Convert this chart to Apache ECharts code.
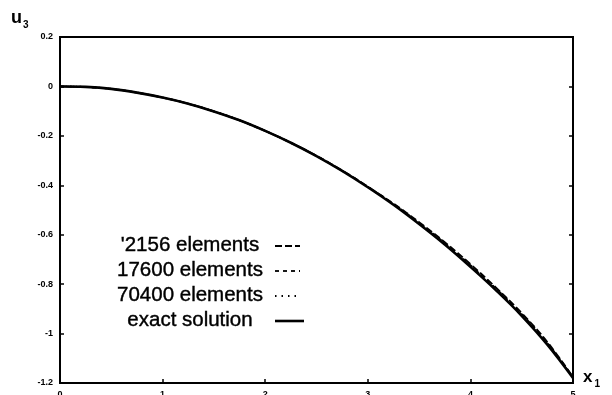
<!DOCTYPE html>
<html><head><meta charset="utf-8">
<script src="https://cdn.jsdelivr.net/npm/echarts@6/dist/echarts.min.js"></script>
<style>html,body{margin:0;padding:0;background:#fff}#c{width:612px;height:395px}</style>
</head><body><div id="c"></div>
<script>
var xs = [0,0.25,0.5,0.75,1,1.25,1.5,1.75,2,2.25,2.5,2.75,3,3.25,3.5,3.75,4,4.25,4.5,4.75,5];
var exact   = [0,-0.002,-0.010,-0.025,-0.045,-0.070,-0.101,-0.137,-0.180,-0.228,-0.282,-0.342,-0.408,-0.479,-0.557,-0.640,-0.730,-0.825,-0.928,-1.045,-1.180];
var el2156  = [0,-0.002,-0.010,-0.025,-0.045,-0.070,-0.101,-0.137,-0.180,-0.228,-0.281,-0.340,-0.405,-0.474,-0.549,-0.630,-0.719,-0.814,-0.917,-1.034,-1.176];
var el17600 = [0,-0.002,-0.010,-0.025,-0.045,-0.070,-0.101,-0.137,-0.180,-0.228,-0.281,-0.341,-0.406,-0.476,-0.552,-0.634,-0.723,-0.818,-0.921,-1.038,-1.177];
var el70400 = [0,-0.002,-0.010,-0.025,-0.045,-0.070,-0.101,-0.137,-0.180,-0.228,-0.282,-0.341,-0.407,-0.477,-0.554,-0.637,-0.726,-0.821,-0.924,-1.041,-1.178];
var legendNames = ["'2156 elements","17600 elements","70400 elements","exact solution"];
var xTicks = [0,1,2,3,4,5];
var yTicks = [0.2,0,-0.2,-0.4,-0.6,-0.8,-1,-1.2];

function pairs(v){ return xs.map(function(x,i){ return [x, v[i]]; }); }

var chart = echarts.init(document.getElementById('c'));
var lineStyles = [
  {type:[7,3], width:1.8},
  {type:[4,4], width:1.8},
  {type:[1.5,5], width:1.8},
  {type:'solid', width:2.6}
];
var dataSets = [el2156, el17600, el70400, exact];
var series = dataSets.map(function(d,i){
  return {name:legendNames[i], type:'line', data:pairs(d), showSymbol:false, smooth:0.4,
    lineStyle:{color:'#000', width:lineStyles[i].width, type:lineStyles[i].type}, z: i===3?5:3};
});

var legendGraphics = [];
var rowY = [245,270,295,320];
legendNames.forEach(function(n,i){
  legendGraphics.push({type:'text', x:190, y:rowY[i], style:{text:n, fill:'#000', font:'20.5px "Liberation Sans", Arial, sans-serif', textAlign:'center', textVerticalAlign:'middle', stroke:'#000', lineWidth:0.4}});
  legendGraphics.push({type:'line', shape:{x1:275, y1:rowY[i]+1, x2:i===3?304:300, y2:rowY[i]+1}, style:{stroke:'#000', lineWidth:lineStyles[i].width, lineDash: i===3?null:lineStyles[i].type}});
});
legendGraphics.push({type:'text', x:11, y:6, style:{rich:{a:{font:'bold 18px "Liberation Sans", Arial',fill:'#000'},b:{font:'bold 10px "Liberation Sans", Arial',fill:'#000',padding:[14,0,0,1]}}, text:'{a|u}{b|3}'}});
legendGraphics.push({type:'text', x:583, y:366, style:{rich:{a:{font:'bold 17px "Liberation Sans", Arial',fill:'#000'},b:{font:'bold 10px "Liberation Sans", Arial',fill:'#000',padding:[13,0,0,2]}}, text:'{a|x}{b|1}'}});

chart.setOption({
  animation:false,
  backgroundColor:'#fff',
  grid:{left:60, right:39, top:37, bottom:12, show:true, borderColor:'#000', borderWidth:2, containLabel:false, outerBoundsMode:'none'},
  xAxis:[{type:'value', min:0, max:5, interval:1, position:'bottom',
    axisLine:{show:true, onZero:false, lineStyle:{color:'#000', width:2}},
    axisTick:{show:true, inside:true, length:4, lineStyle:{color:'#000', width:1.5}},
    axisLabel:{color:'#000', fontSize:9, fontWeight:'bold', margin:7, fontFamily:'Liberation Sans', formatter:function(v){return xTicks.indexOf(v)>=0?String(v):'';}},
    splitLine:{show:false}}],
  yAxis:[{type:'value', min:-1.2, max:0.2, interval:0.2, position:'left',
    axisLine:{show:true, onZero:false, lineStyle:{color:'#000', width:2}},
    axisTick:{show:true, inside:true, length:4, lineStyle:{color:'#000', width:1.5}},
    axisLabel:{color:'#000', fontSize:9, fontWeight:'bold', margin:7, fontFamily:'Liberation Sans', formatter:function(v){var r=Math.round(v*10)/10; return String(r);}},
    splitLine:{show:false}},
    {type:'value', min:-1.2, max:0.2, interval:0.2, position:'right',
    axisLine:{show:true, onZero:false, lineStyle:{color:'#000', width:2}},
    axisTick:{show:true, inside:true, length:4, lineStyle:{color:'#000', width:1.5}},
    axisLabel:{show:false}, splitLine:{show:false}}],
  series:series,
  graphic:legendGraphics
});
</script></body></html>
